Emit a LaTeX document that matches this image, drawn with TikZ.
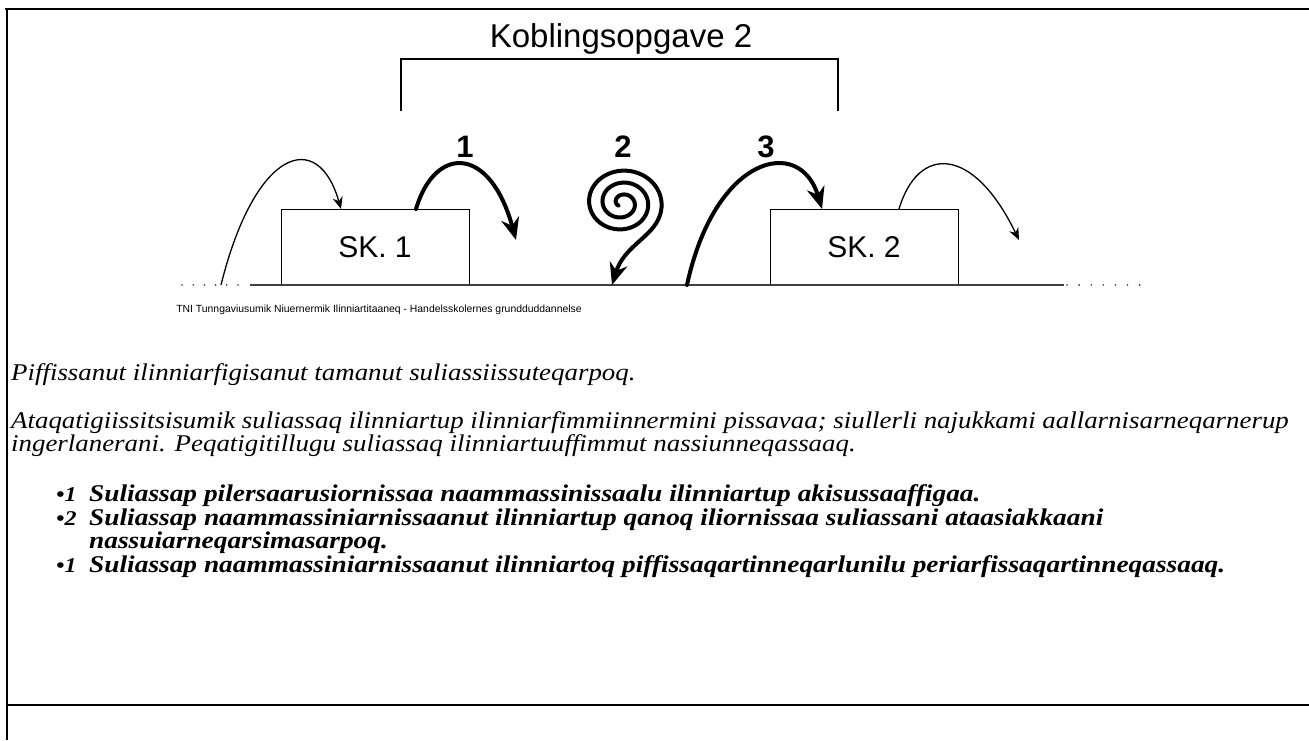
\documentclass[tikz,border=0pt]{standalone}
\usepackage{fontspec}
\setmainfont{Liberation Serif}
\newfontfamily\arial{Liberation Sans}
\newfontfamily\bodyfont[FakeStretch=1.12]{Liberation Serif}
\newfontfamily\boldbodyfont[FakeStretch=1.14]{Liberation Serif}
\usetikzlibrary{arrows.meta}

\begin{document}
\begin{tikzpicture}[x=1pt,y=-1pt,
  frameline/.style={line width=2.6pt},
  bracketline/.style={line width=1.2pt},
  groundline/.style={line width=1.1pt, draw=black!75},
  skbox/.style={draw, line width=0.9pt, minimum width=188pt, minimum height=76pt, inner sep=0pt,
    font=\arial\fontsize{30}{34}\selectfont},
  thinarc/.style={line width=1.3pt, -{Stealth[length=12pt,width=10pt]}},
  thickarc/.style={line width=4pt, line cap=round, -{Stealth[length=22pt,width=18pt]}},
  numlabel/.style={font=\arial\bfseries\fontsize{31}{34}\selectfont, inner sep=0pt},
  dotmark/.style={fill=black!80, circle, inner sep=0pt, minimum size=1.8pt},
  bodytext/.style={anchor=base west, inner sep=0pt, font=\bodyfont\itshape\fontsize{24}{27}\selectfont},
  bullettext/.style={anchor=base west, inner sep=0pt, font=\boldbodyfont\bfseries\itshape\fontsize{24}{27}\selectfont},
  bulletmark/.style={anchor=base west, inner sep=0pt, font=\boldbodyfont\bfseries\itshape\fontsize{21}{24}\selectfont}
]
\useasboundingbox (0,0) rectangle (1309,740);

% outer frame
\coordinate (ftl) at (5,9);
\coordinate (ftr) at (1309,9);
\coordinate (fl0) at (7,8);
\coordinate (fl1) at (7,740);
\coordinate (fbl) at (7,705);
\coordinate (fbr) at (1309,705);
\draw[frameline] (ftl) -- (ftr);
\draw[frameline] (fl0) -- (fl1);
\draw[frameline] (fbl) -- (fbr);

% title and bracket
\node[font=\arial\fontsize{33}{37}\selectfont, anchor=base, inner sep=0pt] (title) at (621,47) {Koblingsopgave 2};
\coordinate (brl) at (401,111);
\coordinate (brlt) at (401,59);
\coordinate (brrt) at (838,59);
\coordinate (brr) at (838,111);
\draw[bracketline] (brl) -- (brlt) -- (brrt) -- (brr);

% boxes and ground line
\node[skbox] (sk1) at (375,247) {SK. 1};
\node[skbox] (sk2) at (864,247) {SK. 2};
\coordinate (gl) at (250,285);
\coordinate (gr) at (1064,285);
\draw[groundline] (gl) -- (gr);
\foreach \i in {0,...,5} { \node[dotmark] (ld\i) at (182+11.2*\i,285) {}; }
\foreach \i in {0,...,6} { \node[dotmark] (rd\i) at (1067+12.1*\i,285) {}; }

% thin arcs
\coordinate (a0s) at (221,285);
\coordinate (a0e) at (341,209);
\draw[thinarc] (a0s) .. controls (255,148) and (318,128) .. (a0e);
\coordinate (a4s) at (899,209);
\coordinate (a4e) at (1019,240);
\draw[thinarc] (a4s) .. controls (918,145) and (973,145) .. (a4e);

% thick arcs
\coordinate (a1s) at (416,209);
\coordinate (a1e) at (516,240);
\draw[thickarc] (a1s) .. controls (435,145) and (490,145) .. (a1e);
\coordinate (a3s) at (687,285);
\coordinate (a3e) at (822,209);
\draw[thickarc] (a3s) .. controls (715,155) and (800,135) .. (a3e);

% spiral
\coordinate (a2e) at (612,285);
\draw[thickarc, line join=round] plot[smooth, domain=0:960, samples=150, variable=\s]
  ({622+1.12*(4+\s/30)*cos(140+\s)}, {203+(4+\s/30)*sin(140+\s)})
  .. controls (653,237) and (624,246) .. (a2e);

% labels
\node[numlabel] (n1) at (465,147) {1};
\node[numlabel] (n2) at (623,147) {2};
\node[numlabel] (n3) at (766,147) {3};

\node[font=\arial\fontsize{10.4}{12}\selectfont, inner sep=0pt] (credit) at (379,310)
  {TNI Tunngaviusumik Niuernermik Ilinniartitaaneq - Handelsskolernes grundduddannelse};

% body text
\node[bodytext] (p1) at (11,380) {Piffissanut ilinniarfigisanut tamanut suliassiissuteqarpoq.};
\node[bodytext] (p2a) at (11,428) {Ataqatigiissitsisumik suliassaq ilinniartup ilinniarfimmiinnermini pissavaa; siullerli najukkami aallarnisarneqarnerup};
\node[bodytext] (p2b) at (11,451) {ingerlanerani. Peqatigitillugu suliassaq ilinniartuuffimmut nassiunneqassaaq.};

\node[bulletmark] (b1m) at (56,501) {•1};
\node[bullettext] (b1) at (89,501) {Suliassap pilersaarusiornissaa naammassinissaalu ilinniartup akisussaaffigaa.};
\node[bulletmark] (b2m) at (56,525) {•2};
\node[bullettext] (b2) at (89,525) {Suliassap naammassiniarnissaanut ilinniartup qanoq iliornissaa suliassani ataasiakkaani};
\node[bullettext] (b2c) at (89,548) {nassuiarneqarsimasarpoq.};
\node[bulletmark] (b3m) at (56,572) {•1};
\node[bullettext] (b3) at (89,572) {Suliassap naammassiniarnissaanut ilinniartoq piffissaqartinneqarlunilu periarfissaqartinneqassaaq.};
\end{tikzpicture}
\end{document}
